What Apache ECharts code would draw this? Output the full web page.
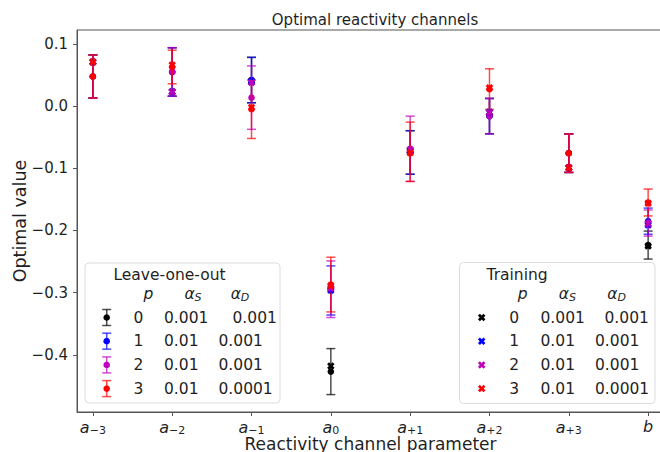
<!DOCTYPE html>
<html>
<head>
<meta charset="utf-8">
<script src="https://cdn.jsdelivr.net/npm/echarts@6/dist/echarts.min.js"></script>
<style>
html, body { margin: 0; padding: 0; background: #ffffff; }
#chart { width: 660px; height: 452px; }
</style>
</head>
<body>
<div id="chart"></div>
<script>
// Reactivity channel parameters (x categories): base symbol + subscript
const paramBase = ['a', 'a', 'a', 'a', 'a', 'a', 'a', 'b'];
const paramSub = ['−3', '−2', '−1', '0', '+1', '+2', '+3', ''];
const yTicks = [0.1, 0.0, -0.1, -0.2, -0.3, -0.4];

// Regularisation settings per model
const pValues = ['0', '1', '2', '3'];
const alphaS = ['0.001', '0.01', '0.01', '0.01'];
const alphaD = ['0.001', '0.001', '0.001', '0.0001'];
const seriesColors = ['#000000', '#0000ff', '#bf00bf', '#ff0000'];

// Leave-one-out estimates (mean and error) and training fits, p = 0
const looP0 = [0.0477, 0.055, 0.042, -0.427, -0.0745, -0.016, -0.0756, -0.2235];
const looErrP0 = [0.0346, 0.039, 0.0365, 0.037, 0.035, 0.0284, 0.031, 0.0225];
const trainP0 = [0.071, 0.023, 0.040, -0.418, -0.072, -0.010, -0.099, -0.225];

// p = 1
const looP1 = [0.0477, 0.055, 0.042, -0.2965, -0.0745, -0.016, -0.0756, -0.185];
const looErrP1 = [0.0346, 0.039, 0.0365, 0.0395, 0.035, 0.0284, 0.031, 0.021];
const trainP1 = [0.071, 0.023, 0.040, -0.296, -0.072, -0.010, -0.099, -0.191];

// p = 2
const looP2 = [0.0477, 0.055, 0.0137, -0.2945, -0.0686, -0.016, -0.0756, -0.188];
const looErrP2 = [0.0346, 0.039, 0.051, 0.0455, 0.0525, 0.0284, 0.031, 0.021];
const trainP2 = [0.071, 0.023, 0.038, -0.293, -0.070, -0.010, -0.099, -0.189];

// p = 3
const looP3 = [0.0477, 0.063, -0.005, -0.287, -0.0734, 0.0274, -0.0756, -0.155];
const looErrP3 = [0.0346, 0.027, 0.047, 0.044, 0.0477, 0.0327, 0.031, 0.0216];
const trainP3 = [0.071, 0.066, -0.002, -0.289, -0.075, 0.0295, -0.099, -0.156];

const looAll = [looP0, looP1, looP2, looP3];
const looErrAll = [looErrP0, looErrP1, looErrP2, looErrP3];
const trainAll = [trainP0, trainP1, trainP2, trainP3];

const FONT = '"DejaVu Sans", "Liberation Sans", sans-serif';
const TEXT = '#1f1f1f';
const SPINE = '#555555';
// Filled "X" marker outline on a 10x10 box
const crossPts = [[0, 2.6], [2.6, 0], [5, 2.4], [7.4, 0], [10, 2.6], [7.6, 5], [10, 7.4], [7.4, 10], [5, 7.6], [2.6, 10], [0, 7.4], [2.4, 5]];
const crossPath = 'path://M' + crossPts.map(p => p[0] + ',' + p[1]).join(' L') + ' Z';

// Vertical error bar with caps and a round marker at the mean
function errorBarRenderer(color) {
  return function (params, api) {
    const x = api.value(0), y = api.value(1), e = api.value(2);
    const c = api.coord([x, y]);
    const hi = api.coord([x, y + e]);
    const lo = api.coord([x, y - e]);
    const cap = 4.5;
    const ls = { stroke: color, lineWidth: 1.5, opacity: 0.7 };
    return {
      type: 'group',
      children: [
        { type: 'line', shape: { x1: c[0], y1: hi[1], x2: c[0], y2: lo[1] }, style: ls },
        { type: 'line', shape: { x1: c[0] - cap, y1: hi[1], x2: c[0] + cap, y2: hi[1] }, style: ls },
        { type: 'line', shape: { x1: c[0] - cap, y1: lo[1], x2: c[0] + cap, y2: lo[1] }, style: ls },
        { type: 'circle', shape: { cx: c[0], cy: c[1], r: 3.3 }, style: { fill: color } }
      ]
    };
  };
}

const series = [];
for (let k = 0; k < 4; k++) {
  series.push({
    type: 'custom',
    name: 'loo p=' + pValues[k],
    renderItem: errorBarRenderer(seriesColors[k]),
    encode: { x: 0, y: 1 },
    clip: false,
    data: looAll[k].map((v, i) => [i, v, looErrAll[k][i]])
  });
  series.push({
    type: 'scatter',
    name: 'train p=' + pValues[k],
    symbol: crossPath,
    symbolSize: 7.5,
    itemStyle: { color: seriesColors[k], opacity: 1 },
    data: trainAll[k].map((v, i) => [i, v])
  });
}

// Legend tables drawn as graphic elements
const LEG_FS = 15.5;
const mathRich = {
  it: { fontFamily: FONT, fontStyle: 'italic', fontSize: LEG_FS, fill: TEXT },
  sub: { fontFamily: FONT, fontStyle: 'italic', fontSize: 11, fill: TEXT, padding: [7, 0, 0, 0] }
};

function buildLegend(cfg) {
  const els = [];
  els.push({
    type: 'rect', z: 100,
    shape: { x: cfg.box[0], y: cfg.box[1], width: cfg.box[2], height: cfg.box[3], r: 4 },
    style: { fill: 'rgba(255,255,255,0.8)', stroke: '#dcdcdc', lineWidth: 1 }
  });
  els.push({
    type: 'text', z: 101,
    style: { text: cfg.title, x: cfg.titleX, y: cfg.titleY, align: cfg.titleAlign, verticalAlign: 'middle',
             font: LEG_FS + 'px ' + FONT, fill: TEXT }
  });
  const headers = [
    { text: '{it|p}', x: cfg.hx[0] },
    { text: '{it|α}{sub|S}', x: cfg.hx[1] },
    { text: '{it|α}{sub|D}', x: cfg.hx[2] }
  ];
  headers.forEach(h => {
    els.push({
      type: 'text', z: 101,
      style: { text: h.text, x: h.x, y: cfg.headY, align: 'center', verticalAlign: 'middle', rich: mathRich }
    });
  });
  for (let i = 0; i < pValues.length; i++) {
    const ry = cfg.rowY0 + i * cfg.rowStep;
    const col = seriesColors[i];
    const ix = cfg.iconX;
    if (cfg.kind === 'loo') {
      const ls = { stroke: col, lineWidth: 1.5, opacity: 0.7 };
      els.push({ type: 'line', z: 101, shape: { x1: ix, y1: ry - 8, x2: ix, y2: ry + 8 }, style: ls });
      els.push({ type: 'line', z: 101, shape: { x1: ix - 4.5, y1: ry - 8, x2: ix + 4.5, y2: ry - 8 }, style: ls });
      els.push({ type: 'line', z: 101, shape: { x1: ix - 4.5, y1: ry + 8, x2: ix + 4.5, y2: ry + 8 }, style: ls });
      els.push({ type: 'circle', z: 102, shape: { cx: ix, cy: ry, r: 3.3 }, style: { fill: col } });
    } else {
      els.push({
        type: 'polygon', z: 101,
        shape: { points: crossPts.map(p => [ix - 3.75 + p[0] * 0.75, ry - 3.75 + p[1] * 0.75]) },
        style: { fill: col }
      });
    }
    const tf = LEG_FS + 'px ' + FONT;
    els.push({ type: 'text', z: 101, style: { text: pValues[i], x: cfg.pX, y: ry, align: 'center', verticalAlign: 'middle', font: tf, fill: TEXT } });
    els.push({ type: 'text', z: 101, style: { text: alphaS[i], x: cfg.sX, y: ry, align: 'left', verticalAlign: 'middle', font: tf, fill: TEXT } });
    const shift = (alphaS[i].length - 4) * cfg.dShift;
    els.push({ type: 'text', z: 101, style: { text: alphaD[i], x: cfg.dX + shift, y: ry, align: 'left', verticalAlign: 'middle', font: tf, fill: TEXT } });
  }
  return els;
}

const graphics = [].concat(
  buildLegend({
    kind: 'loo', box: [85, 263, 195, 140], title: 'Leave-one-out', titleX: 169.5, titleY: 274.5, titleAlign: 'center',
    hx: [148.5, 193, 240], headY: 294, rowY0: 317.5, rowStep: 23.7,
    iconX: 106.7, pX: 138.5, sX: 164, dX: 218.5, dShift: 14
  }),
  buildLegend({
    kind: 'train', box: [459.5, 262.5, 195.5, 141], title: 'Training', titleX: 486.5, titleY: 274.5, titleAlign: 'left',
    hx: [522.7, 567.3, 616.7], headY: 294, rowY0: 317.5, rowStep: 23.7,
    iconX: 481.7, pX: 514.3, sX: 540.5, dX: 595, dShift: 9.5
  })
);

const chart = echarts.init(document.getElementById('chart'), null, { renderer: 'svg' });
chart.setOption({
  animation: false,
  backgroundColor: '#ffffff',
  title: {
    text: 'Optimal reactivity channels',
    left: 370, top: 7, textAlign: 'center',
    textStyle: { fontFamily: FONT, fontSize: 15, fontWeight: 'normal', color: TEXT }
  },
  grid: {
    left: 77, top: 30, right: -4, bottom: 40,
    outerBoundsMode: 'none', containLabel: false,
    show: true, borderColor: SPINE, borderWidth: 1, backgroundColor: 'transparent'
  },
  xAxis: {
    type: 'value', min: -0.2, max: 7.2,
    name: 'Reactivity channel parameter', nameLocation: 'middle', nameGap: 23, nameMoveOverlap: false,
    nameTextStyle: { fontFamily: FONT, fontSize: 17, color: TEXT, verticalAlign: 'top' },
    axisLine: { show: true, onZero: false, lineStyle: { color: SPINE, width: 1 } },
    axisTick: { show: true, inside: false, length: 4, lineStyle: { color: SPINE }, customValues: paramBase.map((_, i) => i) },
    axisLabel: {
      margin: 6,
      customValues: paramBase.map((_, i) => i),
      formatter: v => {
        const i = Math.round(v);
        return paramSub[i] ? '{it|' + paramBase[i] + '}{sub|' + paramSub[i] + '}' : '{it|' + paramBase[i] + '}';
      },
      rich: {
        it: { fontFamily: FONT, fontStyle: 'italic', fontSize: 16, color: TEXT },
        sub: { fontFamily: FONT, fontSize: 11, color: TEXT, padding: [7, 0, 0, 0] }
      }
    },
    splitLine: { show: false }
  },
  yAxis: {
    type: 'value', min: -0.492, max: 0.1225,
    name: 'Optimal value', nameLocation: 'middle', nameGap: 48, nameRotate: 90, nameMoveOverlap: false,
    nameTextStyle: { fontFamily: FONT, fontSize: 17.5, color: TEXT },
    axisLine: { show: true, onZero: false, lineStyle: { color: SPINE, width: 1 } },
    axisTick: { show: true, inside: false, length: 4, lineStyle: { color: SPINE }, customValues: yTicks },
    axisLabel: {
      margin: 9,
      customValues: yTicks,
      fontFamily: FONT, fontSize: 15, color: TEXT,
      formatter: v => v.toFixed(1).replace('-', '−').replace(/^−0\.0$/, '0.0')
    },
    splitLine: { show: false }
  },
  graphic: graphics,
  series: series
});
</script>
</body>
</html>
